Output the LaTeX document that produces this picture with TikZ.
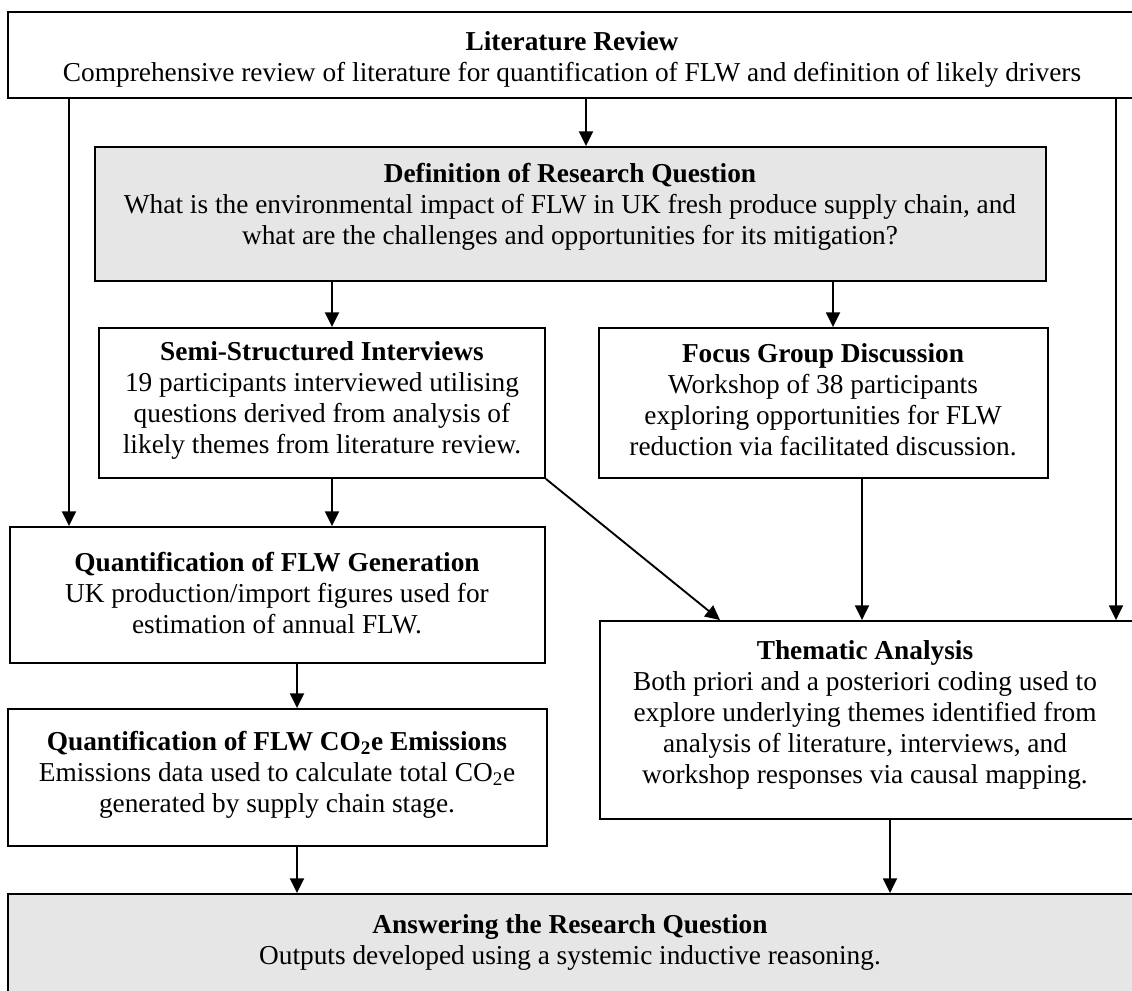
\documentclass[tikz,border=0pt]{standalone}
\usepackage{fontspec}
\setmainfont{Liberation Serif}
\usetikzlibrary{arrows.meta,fit}
\definecolor{boxgray}{HTML}{E6E6E6}
\tikzset{
  box/.style={draw=black, line width=1.4pt, inner sep=0pt, fill=white},
  graybox/.style={box, fill=boxgray},
  txt/.style={align=center, inner sep=0pt, font=\fontsize{20.5}{23.25}\selectfont},
  arr/.style={line width=1.4pt, -{Triangle[width=10.5pt,length=11pt]}},
}
\begin{document}
\begin{tikzpicture}[x=0.75pt,y=-0.75pt]
\useasboundingbox (0,0) rectangle (1132,991);
\clip (0,0) rectangle (1132,991);
% boxes
\node[box, fit={(8,12) (1145,98)}] (lr) {};
\node[graybox, fit={(95,147) (1046,281)}] (def) {};
\node[box, fit={(99,328) (545,478)}] (semi) {};
\node[box, fit={(599,328) (1048,478)}] (focus) {};
\node[box, fit={(10,527) (545,663)}] (qg) {};
\node[box, fit={(600,621) (1145,819)}] (them) {};
\node[box, fit={(8,709) (547,846)}] (qc) {};
\node[graybox, fit={(8,894) (1145,1010)}] (ans) {};
% texts
\node[txt] (lrT) at (572,59) {\textbf{Literature Review}\\Comprehensive review of literature for quantification of FLW and definition of likely drivers};
\node[txt] (defT) at (570,207) {\textbf{Definition of Research Question}\\What is the environmental impact of FLW in UK fresh produce supply chain, and\\what are the challenges and opportunities for its mitigation?};
\node[txt] (semiT) at (322,400) {\textbf{Semi-Structured Interviews}\\19 participants interviewed utilising\\questions derived from analysis of\\likely themes from literature review.};
\node[txt] (focusT) at (823,400) {\textbf{Focus Group Discussion}\\Workshop of 38 participants\\exploring opportunities for FLW\\reduction via facilitated discussion.};
\node[txt] (qgT) at (277,593) {\textbf{Quantification of FLW Generation}\\UK production/import figures used for\\estimation of annual FLW.};
\node[txt] (qcT) at (277,775) {\textbf{Quantification of FLW CO\textsubscript{2}e Emissions}\\Emissions data used to calculate total CO\textsubscript{2}e\\generated by supply chain stage.};
\node[txt] (themT) at (865,715) {\textbf{Thematic Analysis}\\Both priori and a posteriori coding used to\\explore underlying themes identified from\\analysis of literature, interviews, and\\workshop responses via causal mapping.};
\node[txt] (ansT) at (570,942.5) {\textbf{Answering the Research Question}\\Outputs developed using a systemic inductive reasoning.};
% x positions of connectors
\coordinate (x69) at (69,0);
\coordinate (x586) at (586,0);
\coordinate (x332) at (332,0);
\coordinate (x833) at (833,0);
\coordinate (x1116) at (1116,0);
\coordinate (x720) at (720,0);
\coordinate (x862) at (862,0);
\coordinate (x297) at (297,0);
\coordinate (x890) at (890,0);
% connectors
\draw[arr] (lr.south -| x586) -- (def.north -| x586);
\draw[arr] (lr.south -| x69) -- (qg.north -| x69);
\draw[arr] (lr.south -| x1116) -- (them.north -| x1116);
\draw[arr] (def.south -| x332) -- (semi.north -| x332);
\draw[arr] (def.south -| x833) -- (focus.north -| x833);
\draw[arr] (semi.south -| x332) -- (qg.north -| x332);
\draw[arr] (semi.south east) -- (them.north -| x720);
\draw[arr] (focus.south -| x862) -- (them.north -| x862);
\draw[arr] (qg.south -| x297) -- (qc.north -| x297);
\draw[arr] (qc.south -| x297) -- (ans.north -| x297);
\draw[arr] (them.south -| x890) -- (ans.north -| x890);
\end{tikzpicture}
\end{document}
